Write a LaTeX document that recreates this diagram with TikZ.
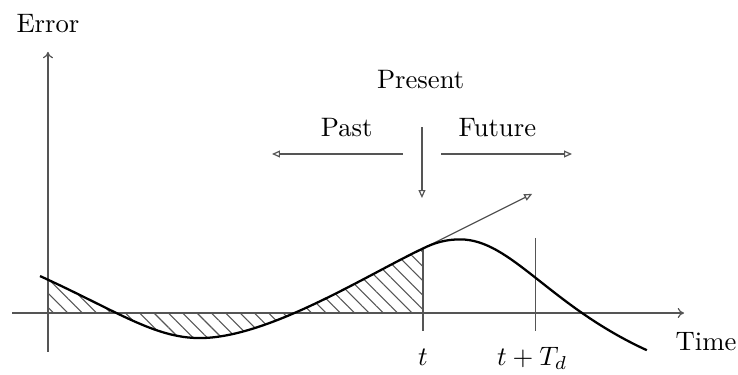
\documentclass[tikz,border=0pt]{standalone}
\usepackage{amsmath}
\usepackage{tikz}
\usetikzlibrary{arrows.meta,patterns.meta}
\definecolor{figgray}{RGB}{85,85,85}
\newcommand{\tNow}{4.94}
\newcommand{\tAhead}{6.42}
\newcommand{\tickLo}{-0.24}
\tikzset{
  axline/.style ={figgray,line width=0.45pt},
  axarr/.style  ={axline,-{To[length=2.4pt,width=3.8pt]}},
  oparr/.style  ={axline,-{Triangle[open,length=3pt,width=2.6pt]}},
  errcurve/.style={black,line width=0.85pt},
  hatch/.style  ={pattern={Lines[angle=-45,distance=3.8pt,line width=0.4pt]},pattern color=figgray},
  lab/.style    ={inner sep=0pt,anchor=base},
}

\begin{document}
\begin{tikzpicture}
  \useasboundingbox (-0.632,-0.804) rectangle (9.091,4.124);
  % axes
  \coordinate (xa) at (-0.47,0);  \coordinate (xb) at (8.38,0);
  \coordinate (ya) at (0,-0.51);  \coordinate (yb) at (0,3.44);
  \draw[axarr] (xa) -- (xb);
  \draw[axarr] (ya) -- (yb);
  \node[lab] (err)  at (0,3.70)     {Error};
  \node[lab] (time) at (8.67,-0.49) {Time};
  % points on the error curve
  \coordinate (c0)   at (-0.105,0.487);
  \coordinate (cmin) at (2.0,-0.33);
  \coordinate (cnow) at (\tNow,0.85);
  \coordinate (cmax) at (5.43,0.97);
  \coordinate (cend) at (7.89,-0.49);
  % integral part
  \begin{scope}
    \clip (0,-1) rectangle (\tNow,2);
    \fill[hatch] (c0) .. controls (0.9,0.03) and (1.4,-0.33) .. (cmin)
      .. controls (2.9,-0.33) and (4.2,0.5) .. (cnow) -- (\tNow,0) -- (-0.105,0) -- cycle;
  \end{scope}
  % tick lines
  \coordinate (tlo) at (\tNow,\tickLo);
  \coordinate (dhi) at (\tAhead,0.99);  \coordinate (dlo) at (\tAhead,\tickLo);
  \draw[axline] (cnow) -- (tlo);
  \draw[axline] (dhi) -- (dlo);
  \node[lab] (tl) at (\tNow,-0.685)  {$t$};
  \node[lab] (dl) at (6.38,-0.685)   {$t+T_d$};
  % derivative
  \coordinate (tang) at (6.38,1.57);
  \draw[oparr] (cnow) -- (tang);
  % the curve
  \draw[errcurve] (c0) .. controls (0.9,0.03) and (1.4,-0.33) .. (cmin)
    .. controls (2.9,-0.33) and (4.2,0.5) .. (cnow)
    .. controls (5.1,0.93) and (5.25,0.97) .. (cmax)
    .. controls (6.1,0.97) and (6.6,0.1) .. (cend);
  % past / present / future
  \node[lab] (pres) at (4.91,2.964) {Present};
  \node[lab] (past) at (3.935,2.332) {Past};
  \node[lab] (fut)  at (5.92,2.332)  {Future};
  \coordinate (pa) at (4.677,2.095);  \coordinate (pb) at (2.951,2.095);
  \coordinate (fa) at (5.178,2.095);  \coordinate (fb) at (6.904,2.095);
  \coordinate (na) at (4.927,2.45);   \coordinate (nb) at (4.927,1.515);
  \draw[oparr] (pa) -- (pb);
  \draw[oparr] (fa) -- (fb);
  \draw[oparr] (na) -- (nb);
\end{tikzpicture}
\end{document}
